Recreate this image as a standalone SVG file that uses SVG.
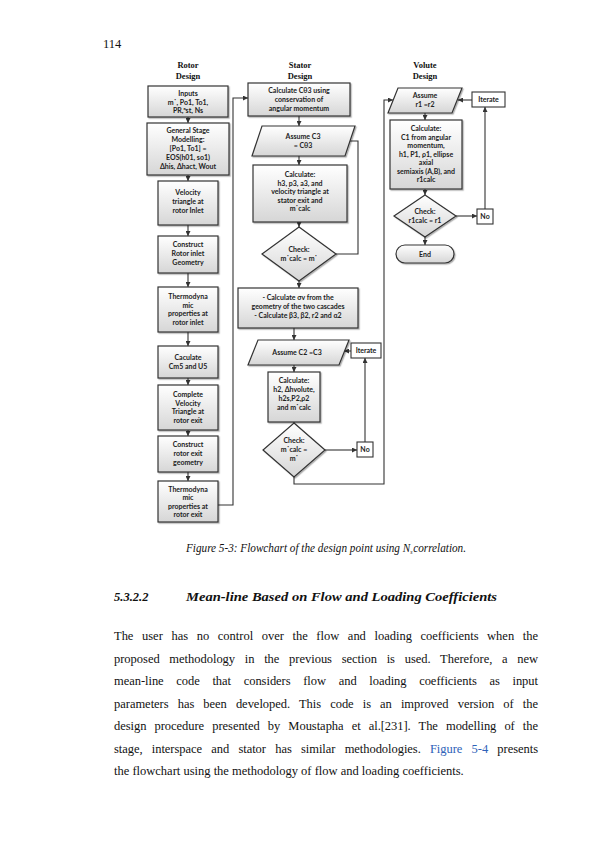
<svg xmlns="http://www.w3.org/2000/svg" width="595" height="842" viewBox="0 0 595 842">
<defs>
<linearGradient id="g" x1="0" y1="0" x2="0" y2="1">
<stop offset="0" stop-color="#ffffff"/>
<stop offset="1" stop-color="#d6d6d6"/>
</linearGradient>
<filter id="s" x="-10%" y="-10%" width="130%" height="130%">
<feDropShadow dx="1.2" dy="1.2" stdDeviation="0.7" flood-color="#000" flood-opacity="0.3"/>
</filter>
<marker id="a" viewBox="0 0 10 10" refX="10" refY="5" markerWidth="5" markerHeight="5" orient="auto" markerUnits="userSpaceOnUse">
<path d="M0,0 L10,5 L0,10 z" fill="#333"/>
</marker>
<style>
.b{fill:url(#g);stroke:#333;stroke-width:1.2;filter:url(#s)}
.w{fill:#fff;stroke:#333;stroke-width:1.1}
.t{font-family:Lato,"Liberation Sans",Arial,sans-serif;font-weight:bold;font-size:7px;text-anchor:middle;fill:#222}
.h{font-family:"Liberation Serif","Times New Roman",serif;font-weight:bold;font-size:8.5px;text-anchor:middle;fill:#111}
.c{fill:none;stroke:#333;stroke-width:1.1;marker-end:url(#a)}
.l{fill:none;stroke:#333;stroke-width:1.1}
.p{font-family:"Liberation Serif","Times New Roman",serif;font-size:12.5px;fill:#111}
</style>
</defs>
<rect width="595" height="842" fill="#fff"/>
<text x="103" y="48" class="p" font-size="11">114</text>

<text class="h" x="188" y="68">Rotor</text><text class="h" x="188" y="79">Design</text>
<text class="h" x="300" y="68">Stator</text><text class="h" x="300" y="79">Design</text>
<text class="h" x="425" y="68">Volute</text><text class="h" x="425" y="79">Design</text>

<g id="connectors">
<path class="c" d="M188,117 V123"/>
<path class="c" d="M188,175 V181"/>
<path class="c" d="M188,225 V236"/>
<path class="c" d="M188,273 V287"/>
<path class="c" d="M188,332 V346"/>
<path class="c" d="M188,378 V385"/>
<path class="c" d="M188,430 V436"/>
<path class="c" d="M188,472 V481"/>
<path class="c" d="M218,505 H233 V98 H248"/>
<path class="c" d="M299,116 V126"/>
<path class="c" d="M299,156 V165"/>
<path class="c" d="M299,222 V227"/>
<path class="l" d="M349,141 H358 V254 H336"/>
<path class="c" d="M299,281 V288"/>
<path class="c" d="M294,328 V340"/>
<path class="c" d="M351,351 H344"/>
<path class="c" d="M294,365 V372"/>
<path class="c" d="M294,422 V423"/>
<path class="c" d="M325,450 H357"/>
<path class="c" d="M365,442 V358"/>
<path class="c" d="M294,477 V484 H384 V100 H393"/>
<path class="c" d="M472,100 H458"/>
<path class="c" d="M425,113 V120"/>
<path class="c" d="M425,189 V195"/>
<path class="c" d="M456,216 H477"/>
<path class="c" d="M485,209 V107"/>
<path class="c" d="M425,237 V245"/>
</g>

<g id="inputs"><rect class="b" x="148" y="86" width="80" height="31"/>
<text class="t" x="188" y="96">Inputs</text><text class="t" x="188" y="104.5">m˙, Po1, To1,</text><text class="t" x="188" y="113">PR,ᶯst, Ns</text></g>
<g id="general"><rect class="b" x="147" y="123" width="82" height="52"/>
<text class="t" x="188" y="133">General Stage</text><text class="t" x="188" y="142">Modelling:</text><text class="t" x="188" y="151">[Po1, To1] =</text><text class="t" x="188" y="160">EOS(h01, so1)</text><text class="t" x="188" y="169">Δhis, Δhact, Wout</text></g>
<g id="vel-inlet"><rect class="b" x="158" y="181" width="60" height="44"/>
<text class="t" x="188" y="195">Velocity</text><text class="t" x="188" y="204">triangle at</text><text class="t" x="188" y="213">rotor Inlet</text></g>
<g id="geo-inlet"><rect class="b" x="158" y="236" width="60" height="37"/>
<text class="t" x="188" y="247">Construct</text><text class="t" x="188" y="256">Rotor inlet</text><text class="t" x="188" y="265">Geometry</text></g>
<g id="thermo-inlet"><rect class="b" x="158" y="287" width="60" height="45"/>
<text class="t" x="188" y="299">Thermodyna</text><text class="t" x="188" y="307.5">mic</text><text class="t" x="188" y="316">properties at</text><text class="t" x="188" y="324.5">rotor inlet</text></g>
<g id="cm5"><rect class="b" x="158" y="346" width="60" height="32"/>
<text class="t" x="188" y="360">Caculate</text><text class="t" x="188" y="369">Cm5 and U5</text></g>
<g id="vel-exit"><rect class="b" x="158" y="385" width="60" height="45"/>
<text class="t" x="188" y="397">Complete</text><text class="t" x="188" y="405.5">Velocity</text><text class="t" x="188" y="414">Triangle at</text><text class="t" x="188" y="422.5">rotor exit</text></g>
<g id="geo-exit"><rect class="b" x="158" y="436" width="60" height="36"/>
<text class="t" x="188" y="447">Construct</text><text class="t" x="188" y="456">rotor exit</text><text class="t" x="188" y="465">geometry</text></g>
<g id="thermo-exit"><rect class="b" x="158" y="481" width="60" height="41"/>
<text class="t" x="188" y="491.5">Thermodyna</text><text class="t" x="188" y="500">mic</text><text class="t" x="188" y="508.5">properties at</text><text class="t" x="188" y="517">rotor exit</text></g>

<g id="ctheta3"><rect class="b" x="248" y="83" width="102" height="33"/>
<text class="t" x="299" y="93">Calculate Cθ3 using</text><text class="t" x="299" y="102">conservation of</text><text class="t" x="299" y="111">angular momentum</text></g>
<g id="assume-c3"><polygon class="b" points="262,126 355,126 345,156 252,156"/>
<text class="t" x="303" y="139">Assume C3</text><text class="t" x="303" y="148">= Cθ3</text></g>
<g id="calc-h3"><rect class="b" x="253" y="165" width="94" height="57"/>
<text class="t" x="300" y="177">Calculate:</text><text class="t" x="300" y="185.5">h3, p3, a3, and</text><text class="t" x="300" y="194">velocity triangle at</text><text class="t" x="300" y="202.5">stator exit and</text><text class="t" x="300" y="211">m˙calc</text></g>
<g id="check-stator"><polygon class="b" points="299,227 336,254 299,281 262,254"/>
<text class="t" x="299" y="252">Check:</text><text class="t" x="299" y="261">m˙calc = m˙</text></g>
<g id="sigma"><rect class="b" x="238" y="288" width="120" height="40"/>
<text class="t" x="298" y="300">- Calculate σv from the</text><text class="t" x="298" y="309">geometry of the two cascades</text><text class="t" x="298" y="318">- Calculate β3, β2, r2 and α2</text></g>
<g id="assume-c2"><polygon class="b" points="258,340 349,340 339,365 248,365"/>
<text class="t" x="297" y="355">Assume C2 =C3</text></g>
<g id="iterate-stator"><rect class="w" x="351" y="343" width="30" height="15"/>
<text class="t" x="366" y="353">Iterate</text></g>
<g id="calc-h2"><rect class="b" x="268" y="372" width="52" height="50"/>
<text class="t" x="294" y="383">Calculate:</text><text class="t" x="294" y="392">h2, Δhvolute,</text><text class="t" x="294" y="401">h2s,P2,ρ2</text><text class="t" x="294" y="410">and m˙calc</text></g>
<g id="check-volute-in"><polygon class="b" points="294,423 325,450 294,477 263,450"/>
<text class="t" x="294" y="443">Check:</text><text class="t" x="294" y="452">m˙calc =</text><text class="t" x="294" y="461">m˙</text></g>
<g id="no-stator"><rect class="w" x="357" y="442" width="16" height="15"/>
<text class="t" x="365" y="452">No</text></g>

<g id="assume-r1"><polygon class="b" points="398,88 462,88 452,113 388,113"/>
<text class="t" x="425" y="98">Assume</text><text class="t" x="425" y="107">r1 =r2</text></g>
<g id="iterate-volute"><rect class="w" x="472" y="92" width="33" height="15"/>
<text class="t" x="488.5" y="102">Iterate</text></g>
<g id="calc-c1"><rect class="b" x="390" y="120" width="72" height="69"/>
<text class="t" x="426" y="131">Calculate:</text><text class="t" x="426" y="139.5">C1 from angular</text><text class="t" x="426" y="148">momentum,</text><text class="t" x="426" y="156.5">h1, P1, ρ1, ellipse</text><text class="t" x="426" y="165">axial</text><text class="t" x="426" y="173.5">semiaxis (A,B), and</text><text class="t" x="426" y="182">r1calc</text></g>
<g id="check-r1"><polygon class="b" points="425,195 456,216 425,237 394,216"/>
<text class="t" x="425" y="214">Check:</text><text class="t" x="425" y="223">r1calc = r1</text></g>
<g id="no-volute"><rect class="w" x="477" y="209" width="16" height="15"/>
<text class="t" x="485" y="219">No</text></g>
<g id="end"><rect class="b" x="396" y="245" width="58" height="18" rx="9"/>
<text class="t" x="425" y="256.5">End</text></g>

<text x="186" y="552" class="p" font-size="9.8" font-style="italic" textLength="280" lengthAdjust="spacingAndGlyphs">Figure 5-3: Flowchart of the design point using N<tspan font-size="6.5" baseline-shift="-2">s</tspan><tspan dx="0.8">correlation.</tspan></text>

<text x="114" y="601" class="p" font-size="12.5" font-weight="bold" font-style="italic">5.3.2.2</text>
<text x="186" y="601" class="p" font-size="12.5" font-weight="bold" font-style="italic" textLength="311" lengthAdjust="spacingAndGlyphs">Mean-line Based on Flow and Loading Coefficients</text>

<text x="114" y="640" class="p" word-spacing="5.5" textLength="424" lengthAdjust="spacing">The user has no control over the flow and loading coefficients when the</text>
<text x="114" y="662.5" class="p" word-spacing="6.6" textLength="424" lengthAdjust="spacing">proposed methodology in the previous section is used. Therefore, a new</text>
<text x="114" y="685" class="p" word-spacing="9.6" textLength="424" lengthAdjust="spacing">mean-line code that considers flow and loading coefficients as input</text>
<text x="114" y="707.5" class="p" word-spacing="6" textLength="424" lengthAdjust="spacing">parameters has been developed. This code is an improved version of the</text>
<text x="114" y="730" class="p" word-spacing="5" textLength="424" lengthAdjust="spacing">design procedure presented by Moustapha et al.[231]. The modelling of the</text>
<text x="114" y="752.5" class="p" word-spacing="6.2" textLength="424" lengthAdjust="spacing">stage, interspace and stator has similar methodologies. <tspan fill="#2e62b8">Figure 5-4</tspan> presents</text>
<text x="114" y="775" class="p">the flowchart using the methodology of flow and loading coefficients.</text>
</svg>
